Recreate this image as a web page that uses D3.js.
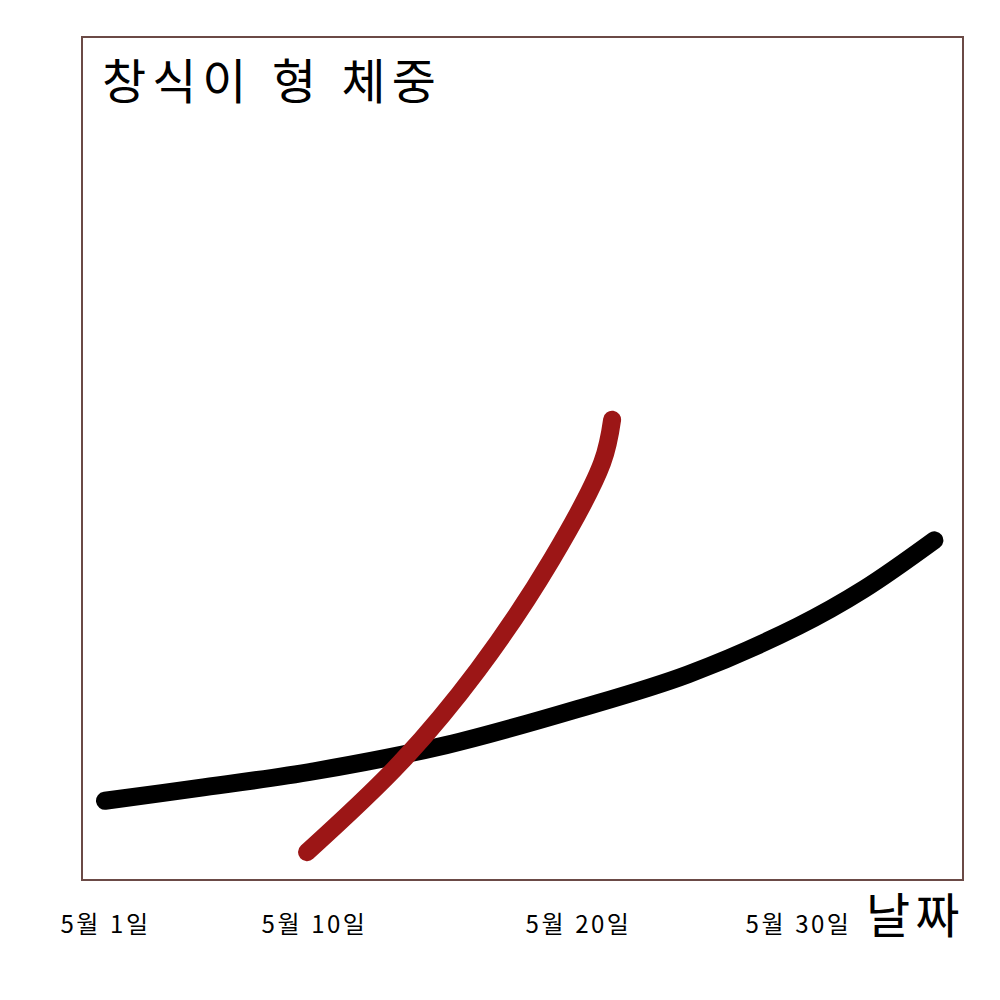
<!DOCTYPE html>
<html lang="ko">
<head>
<meta charset="UTF-8">
<title>창식이 형 체중</title>
<script src="https://cdn.jsdelivr.net/npm/d3@7"></script>
<style>
    html, body { margin: 0; padding: 0; background: #fff; }
    svg text { font-family: "Noto Sans CJK KR", "Noto Sans", sans-serif; fill: #000; }
</style>
</head>
<body>
<div id="chart"></div>
<script>
    // data (day of May, relative weight)
    const tickDays = [1, 10, 20, 30];
    const blackDays = [1, 5, 10, 15, 20, 25, 30, 33, 36.2];
    const blackWeight = [9.4, 10.9, 12.9, 16.0, 20.3, 24.4, 30.1, 34.5, 40.3];
    const redDays = [9.7, 13.3, 16.2, 19, 21.1, 21.55];
    const redWeight = [3.3, 14.0, 24.9, 38.0, 49.5, 54.6];

    const W = 1000, H = 1000;
    const frame = { left: 82, top: 37, right: 963, bottom: 880 };

    const svg = d3.select("#chart").append("svg")
        .attr("width", W).attr("height", H);

    // hand-drawn axis: the tick spacing is not even, so piecewise scale
    const x = d3.scaleLinear()
        .domain(tickDays)
        .range([105, 314, 578, 798]);
    const y = d3.scaleLinear()
        .domain([0, 100])
        .range([frame.bottom, frame.top]);

    svg.append("rect")
        .attr("x", frame.left)
        .attr("y", frame.top)
        .attr("width", frame.right - frame.left)
        .attr("height", frame.bottom - frame.top)
        .attr("fill", "none")
        .attr("stroke", "#6b4a46")
        .attr("stroke-width", 2);

    const line = d3.line()
        .x(d => x(d[0]))
        .y(d => y(d[1]))
        .curve(d3.curveCatmullRom.alpha(0.5));

    const series = [
        { pts: d3.zip(blackDays, blackWeight), color: "#000000" },
        { pts: d3.zip(redDays, redWeight), color: "#9c1616" }
    ];

    svg.selectAll("path.series")
        .data(series)
        .join("path")
        .classed("series", true)
        .attr("d", d => line(d.pts))
        .attr("fill", "none")
        .attr("stroke", d => d.color)
        .attr("stroke-width", 18)
        .attr("stroke-linecap", "round")
        .attr("stroke-linejoin", "round");

    const xAxis = svg.append("g")
        .attr("transform", `translate(0,${frame.bottom})`)
        .call(d3.axisBottom(x)
            .tickValues(tickDays)
            .tickSize(0)
            .tickFormat(d => `5월 ${d}일`));
    xAxis.select(".domain").remove();
    xAxis.selectAll("text")
        .attr("y", 53)
        .attr("dy", 0)
        .style("font-size", "24px")
        .style("letter-spacing", "2.5px")
        .style("font-family", "\"Noto Sans CJK KR\", sans-serif")
        .attr("fill", "#000");

    svg.append("text")
        .attr("x", 866)
        .attr("y", 933)
        .style("font-size", "48px")
        .style("letter-spacing", "5px")
        .text("날짜");

    svg.append("text")
        .attr("x", 102)
        .attr("y", 99)
        .style("font-size", "48px")
        .style("letter-spacing", "6px")
        .text("창식이 형 체중");
</script>
</body>
</html>
